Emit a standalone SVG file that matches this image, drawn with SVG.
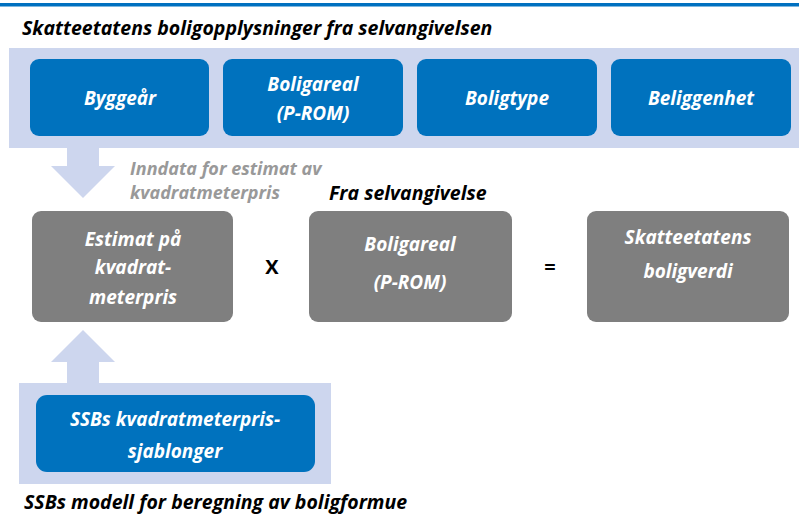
<svg xmlns="http://www.w3.org/2000/svg" width="799" height="516" viewBox="0 0 799 516">
<style>
text{font-family:"Open Sans","DejaVu Sans",sans-serif;font-weight:bold;font-style:italic}
.band{fill:#CDD6EE}
.blue{fill:#0072BE}
.gray{fill:#7F7F7F}
.wt{fill:#FFFFFF;font-size:19px;text-anchor:middle}
.hd{fill:#000000;font-size:19.5px}
.gt{fill:#999999;font-size:18px}
.op{fill:#000000;font-size:20px;font-style:normal;text-anchor:middle}
</style>
<rect x="0" y="3" width="799" height="3.5" fill="#0070C0"/>
<text class="hd" x="22" y="35">Skatteetatens boligopplysninger fra selvangivelsen</text>
<rect class="band" x="9" y="48" width="790" height="100"/>
<rect class="band" x="19" y="383" width="312" height="101"/>
<g id="connectors">
<polygon class="band" points="67,147 99,147 99,166 115,166 83,198 51,166 67,166"/>
<polygon class="band" points="67,384 99,384 99,362 115,362 83,330 51,362 67,362"/>
</g>
<g id="n-byggear">
<rect class="blue" x="30" y="59" width="179" height="77" rx="9"/>
<text class="wt" x="120" y="105">Byggeår</text>
</g>
<g id="n-boligareal-top">
<rect class="blue" x="223" y="59" width="180" height="77" rx="9"/>
<text class="wt" x="313" y="91">Boligareal</text>
<text class="wt" x="313" y="120">(P-ROM)</text>
</g>
<g id="n-boligtype">
<rect class="blue" x="417" y="59" width="180" height="77" rx="9"/>
<text class="wt" x="507" y="105">Boligtype</text>
</g>
<g id="n-beliggenhet">
<rect class="blue" x="611" y="59" width="180" height="77" rx="9"/>
<text class="wt" x="701" y="105">Beliggenhet</text>
</g>
<text class="gt" x="130" y="175">Inndata for estimat av</text>
<text class="gt" x="130" y="199">kvadratmeterpris</text>
<text class="hd" x="329" y="200">Fra selvangivelse</text>
<g id="n-estimat">
<rect class="gray" x="32" y="211" width="201" height="111" rx="9"/>
<text class="wt" x="133" y="246">Estimat på</text>
<text class="wt" x="133" y="274">kvadrat-</text>
<text class="wt" x="133" y="304">meterpris</text>
</g>
<text class="op" x="272" y="274">X</text>
<g id="n-boligareal">
<rect class="gray" x="309" y="211" width="203" height="111" rx="9"/>
<text class="wt" x="410" y="251">Boligareal</text>
<text class="wt" x="410" y="289">(P-ROM)</text>
</g>
<text class="op" x="550" y="274">=</text>
<g id="n-boligverdi">
<rect class="gray" x="587" y="211" width="202" height="111" rx="9"/>
<text class="wt" x="688" y="244">Skatteetatens</text>
<text class="wt" x="688" y="278">boligverdi</text>
</g>
<g id="n-ssb">
<rect class="blue" x="36" y="395" width="279" height="77" rx="11"/>
<text class="wt" x="175" y="426">SSBs kvadratmeterpris-</text>
<text class="wt" x="175" y="458">sjablonger</text>
</g>
<text class="hd" x="24" y="509">SSBs modell for beregning av boligformue</text>
</svg>
